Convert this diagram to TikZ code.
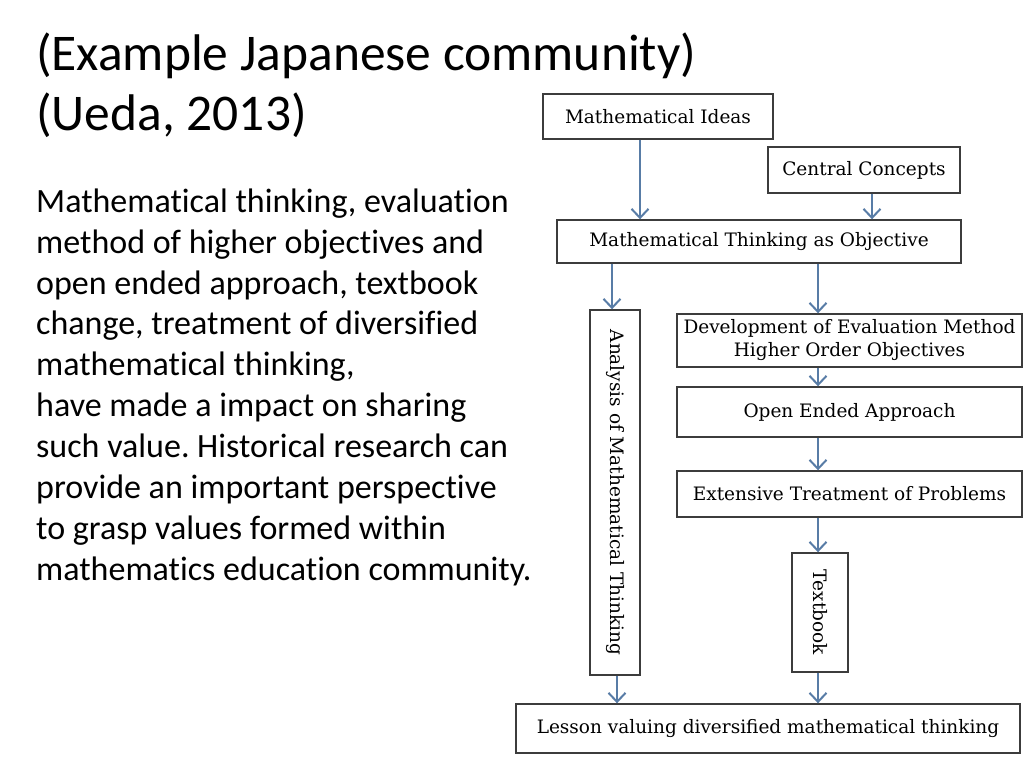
\documentclass[tikz,border=0pt]{standalone}
\usepackage{fontspec}
\setmainfont[Ligatures={NoCommon,NoContextual}]{Carlito}
\newfontfamily\boxfont{DejaVu Serif}
\usetikzlibrary{arrows.meta}
\definecolor{arrowblue}{RGB}{88,124,166}
\definecolor{boxline}{RGB}{60,60,60}
\frenchspacing
\begin{document}
\begin{tikzpicture}[x=1pt,y=-1pt,
  box/.style={draw=boxline, line width=1.4pt, fill=white, inner sep=0pt,
    font=\boxfont\fontsize{18.5}{23}\selectfont, align=center},
  arr/.style={draw=arrowblue, line width=2pt,
    -{Straight Barb[length=9pt,width=17pt,line width=2pt]}},
  txt/.style={anchor=north west, inner sep=0pt, align=left}
]
\useasboundingbox (0,0) rectangle (1024,768);
\fill[white] (0,0) rectangle (1024,768);

% left text
\node[txt, font=\fontsize{51.5}{60}\selectfont] (title) at (36,27)
  {\rule{0pt}{43pt}(Example Japanese community)\\(Ueda, 2013)};
\node[txt, font=\fontsize{34}{40.9}\selectfont] (body) at (36,186)
  {\rule{0pt}{26pt}Mathematical thinking, evaluation\\
   method of higher objectives and\\
   open ended approach, textbook\\
   change, treatment of diversified\\
   mathematical thinking,\\
   have made a impact on sharing\\
   such value. Historical research can\\
   provide an important perspective\\
   to grasp values formed within\\
   mathematics education community.};

% boxes
\node[box, minimum width=230pt, minimum height=45pt] (MI) at (658,116.5) {Mathematical Ideas};
\node[box, minimum width=192pt, minimum height=46pt] (CC) at (864,170) {Central Concepts};
\node[box, minimum width=404pt, minimum height=43pt] (MTO) at (759,241.5) {Mathematical Thinking as Objective};
\node[box, minimum width=50pt, minimum height=365pt] (AMT) at (615,492.5)
  {\rotatebox{-90}{Analysis of Mathematical Thinking}};
\node[box, minimum width=345pt, minimum height=53pt] (DEV) at (849.5,340.5)
  {Development of Evaluation Method\\Higher Order Objectives};
\node[box, minimum width=345pt, minimum height=50pt] (OEA) at (849.5,412) {Open Ended Approach};
\node[box, minimum width=345pt, minimum height=46pt] (ETP) at (849.5,494) {Extensive Treatment of Problems};
\node[box, minimum width=56pt, minimum height=119pt] (TB) at (820,612.5) {\rotatebox{-90}{Textbook}};
\node[box, minimum width=504pt, minimum height=49pt] (LES) at (768,728.5)
  {Lesson valuing diversified mathematical thinking};

% arrow columns
\coordinate (xa) at (640,0);
\coordinate (xb) at (872,0);
\coordinate (xc) at (612,0);
\coordinate (xd) at (818,0);
\coordinate (xh) at (617,0);

\draw[arr] (MI.south -| xa) -- (MTO.north -| xa);
\draw[arr] (CC.south -| xb) -- (MTO.north -| xb);
\draw[arr] (MTO.south -| xc) -- (AMT.north -| xc);
\draw[arr] (MTO.south -| xd) -- (DEV.north -| xd);
\draw[arr] (DEV.south -| xd) -- (OEA.north -| xd);
\draw[arr] (OEA.south -| xd) -- (ETP.north -| xd);
\draw[arr] (ETP.south -| xd) -- (TB.north -| xd);
\draw[arr] (AMT.south -| xh) -- (LES.north -| xh);
\draw[arr] (TB.south -| xd) -- (LES.north -| xd);
\end{tikzpicture}
\end{document}
